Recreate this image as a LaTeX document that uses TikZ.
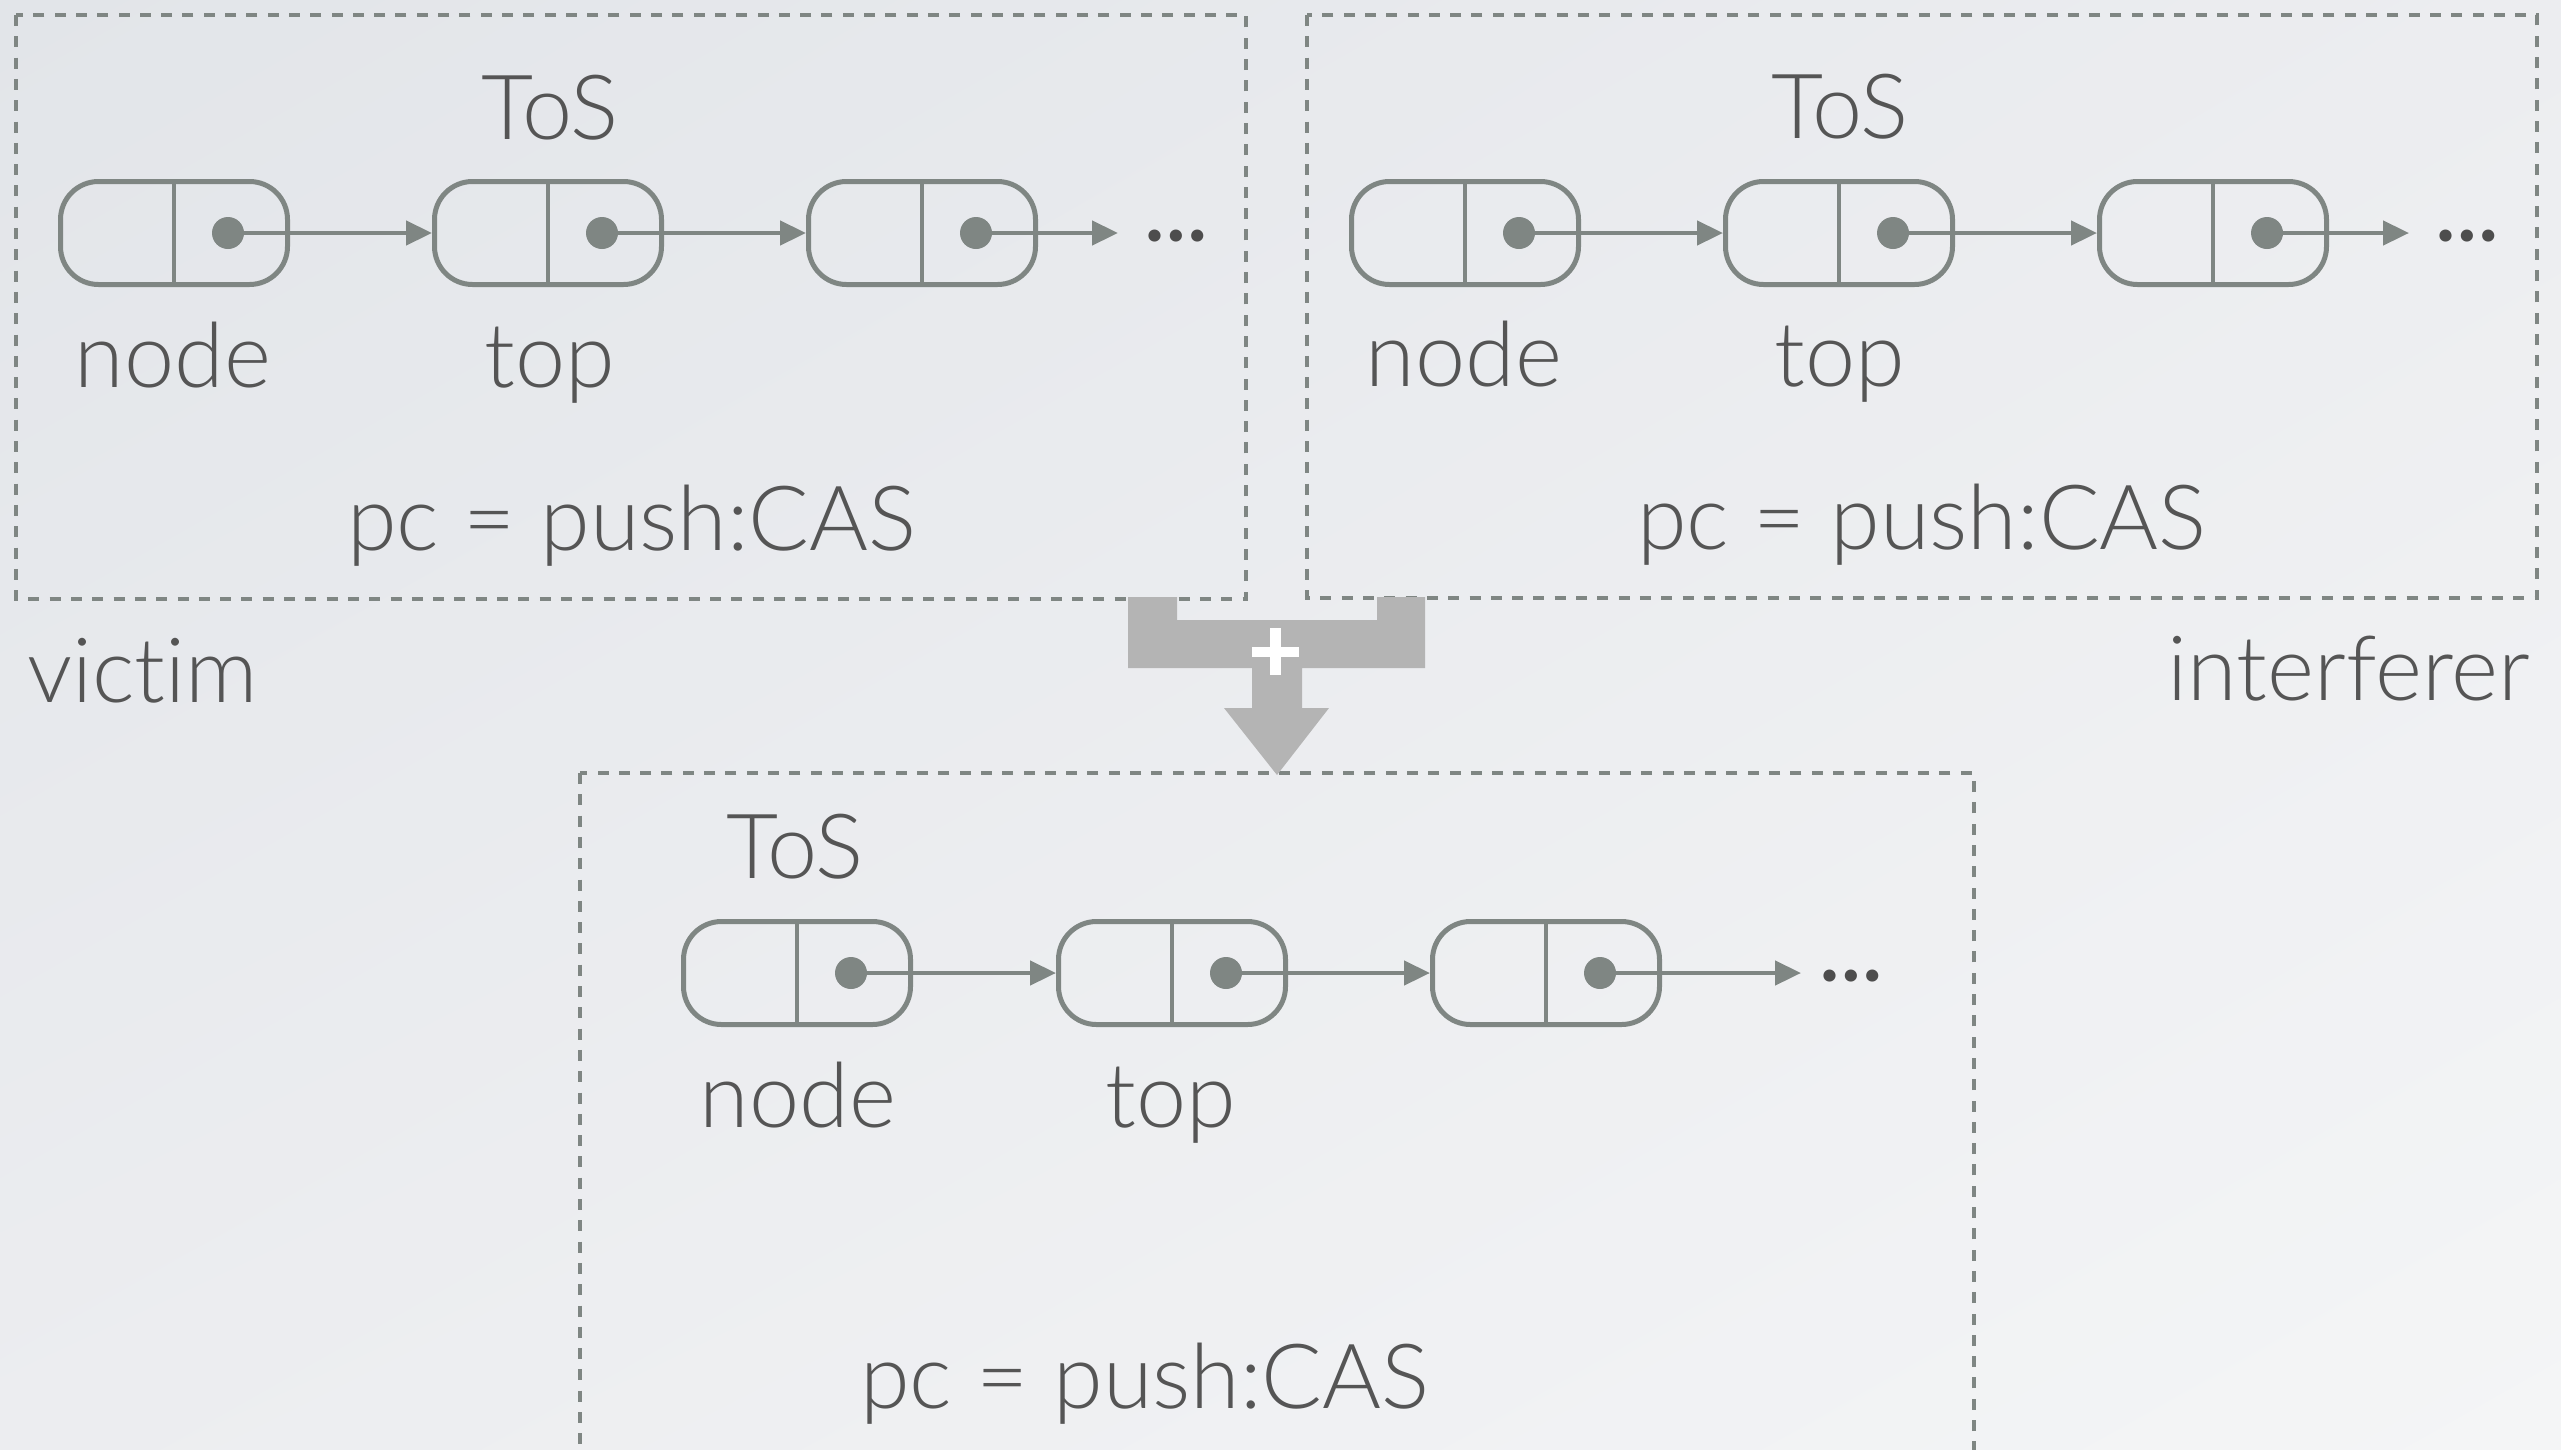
\documentclass[tikz,border=0pt]{standalone}
\usepackage{fontspec}
\setmainfont{Lato Light}[Ligatures={NoCommon,NoContextual}]
\newfontfamily\dotfont{Lato}
\usetikzlibrary{arrows.meta,shadings}
\definecolor{lk}{HTML}{7F8683}
\definecolor{tx}{HTML}{555555}
\definecolor{bigarrow}{HTML}{B4B4B4}
\definecolor{dk}{HTML}{4D4D4D}
\definecolor{bgul}{RGB}{226,229,233}
\definecolor{bgmid}{RGB}{236,237,240}
\definecolor{bglr}{RGB}{244,245,246}
\tikzset{
  lnode/.style={draw=lk, line width=5pt, rounded corners=38pt, minimum width=227pt, minimum height=103pt, inner sep=0pt},
  divider/.style={draw=lk, line width=4pt},
  link/.style={draw=lk, line width=4.5pt, -{Triangle[length=26pt,width=24pt]}},
  framebox/.style={draw=lk, line width=4.8pt, dash pattern=on 11pt off 10.3pt},
  lbl/.style={text=tx, font=\fontsize{90}{100}\selectfont, inner sep=0pt, anchor=base},
  more/.style={text=dk, font=\dotfont\bfseries\fontsize{80}{84}\selectfont, inner sep=0pt, anchor=base west},
}
\newcommand\mkchain[6]{%
  \foreach \i/\xx in {1/#2,2/#3,3/#4}{
    \node[lnode] (#1\i) at (\xx,#5) {};
    \draw[divider] (#1\i.north) -- (#1\i.south);
    \path (#1\i.center) ++(54,0) coordinate (#1\i d);
    \fill[lk] (#1\i d) circle (16);
  }
  \coordinate (#1e) at (#6,#5);
  \draw[link] (#11d) -- (#12.west);
  \draw[link] (#12d) -- (#13.west);
  \draw[link] (#13d) -- (#1e);
}
\begin{document}
\begin{tikzpicture}[x=1pt,y=-1pt]
\useasboundingbox (0,0) rectangle (2561,1449);
\shade[upper left=bgul, upper right=bgmid, lower left=bgmid, lower right=bglr]
  (0,0) rectangle (2561,1449);

% frames
\draw[framebox] (16,15) rectangle (1246,599);
\draw[framebox] (1307,15) rectangle (2537,598);
\draw[framebox] (580,773) rectangle (1974,1470);

% victim
\mkchain{a}{174}{548}{922}{233}{1118}
\node[more] (adots) at (1145,241) {…};
\node[lbl] (atos) at (550,139) {ToS};
\node[lbl] (anode) at (173,387) {node};
\node[lbl] (atop) at (550,387) {top};
\node[lbl] (apc) at (632,550) {pc = push:CAS};

% interferer
\mkchain{b}{1465}{1839}{2213}{233}{2409}
\node[more] (bdots) at (2436,241) {…};
\node[lbl] (btos) at (1840,138) {ToS};
\node[lbl] (bnode) at (1464,386) {node};
\node[lbl] (btop) at (1840,386) {top};
\node[lbl] (bpc) at (1922,549) {pc = push:CAS};

% result
\mkchain{c}{797}{1172}{1546}{973}{1801}
\node[more] (cdots) at (1820,981) {…};
\node[lbl] (ctos) at (795,878) {ToS};
\node[lbl] (cnode) at (798,1127) {node};
\node[lbl] (ctop) at (1171,1127) {top};
\node[lbl] (cpc) at (1145,1408) {pc = push:CAS};

% labels
\node[lbl, anchor=base west] (victim) at (27,702) {victim};
\node[lbl, anchor=base east] (interferer) at (2530,700) {interferer};

% merge arrow
\fill[bigarrow] (1128,597) -- (1177,597) -- (1177,620) -- (1377,620) -- (1377,597) -- (1425,597)
  -- (1425,668) -- (1302,668) -- (1302,708) -- (1329,708) -- (1277,775) -- (1224,708)
  -- (1252,708) -- (1252,668) -- (1128,668) -- cycle;
\fill[white] (1252,647) rectangle (1299,657);
\fill[white] (1270,628) rectangle (1281,675);
\end{tikzpicture}
\end{document}
